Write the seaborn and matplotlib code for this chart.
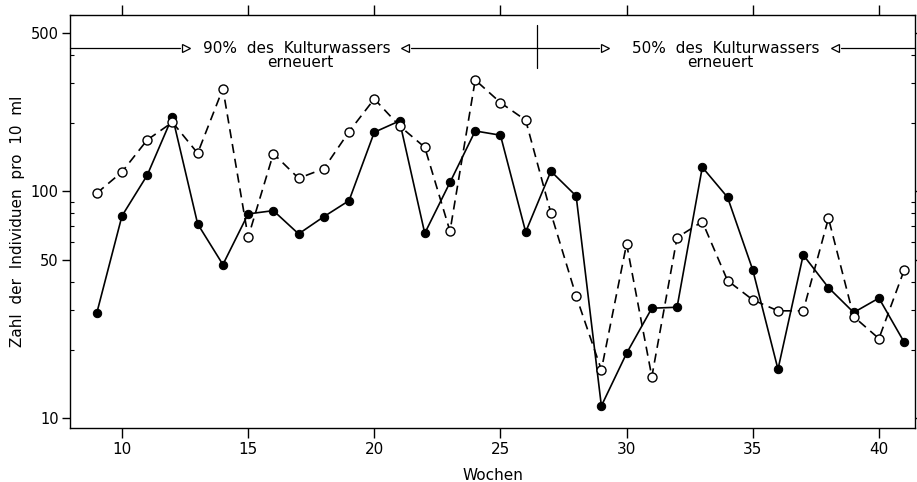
import numpy as np
import pandas as pd
import matplotlib
matplotlib.use("Agg")
import matplotlib.pyplot as plt
import matplotlib.transforms as mtrans
from matplotlib.ticker import LogLocator, FixedLocator, NullFormatter, FixedFormatter
import seaborn as sns

# ---- data ----
wochen = list(range(9, 42))
gefuellt = [29.0, 77.9, 117.8, 213.6, 71.8, 47.5, 79.5, 82.2, 64.9, 77.3, 91.0,
            182.3, 204.5, 65.3, 109.5, 184.7, 176.9, 66.2, 122.7, 95.4, 11.3,
            19.3, 30.5, 30.8, 127.8, 94.2, 45.0, 16.4, 52.4, 37.6, 29.2, 33.8, 21.6]
offen = [98.1, 121.8, 168.6, 201.8, 147.3, 283.9, 62.7, 146.7, 114.2, 125.9, 183.4,
         255.7, 194.4, 156.5, 66.7, 310.1, 246.3, 206.0, 80.1, 34.5, 16.3,
         58.6, 15.2, 62.5, 73.5, 40.4, 33.2, 29.7, 29.7, 76.1, 28.0, 22.4, 44.9]
x_ticks = [10, 15, 20, 25, 30, 35, 40]
y_ticks = [10, 50, 100, 500]
y_ticklabels = ["10", "50", "100", "500"]
kopf_links = "90%  des  Kulturwassers"
kopf_rechts = "50%  des  Kulturwassers"
kopf_unten = "erneuert"
x_label = "Wochen"
y_label = "Zahl  der  Individuen  pro  10  ml"

df = pd.DataFrame({"Woche": wochen, "gefuellt": gefuellt, "offen": offen})

sns.set_theme(style="white")
plt.rcParams["font.family"] = ["DejaVu Sans"]
plt.rcParams["text.color"] = "black"
plt.rcParams["axes.labelcolor"] = "black"

fig = plt.figure(figsize=(9.17, 4.82), dpi=100)
ax = fig.add_axes([70 / 917, 1 - 428 / 482, (915 - 70) / 917, (428 - 15) / 482])

sns.lineplot(data=df, x="Woche", y="gefuellt", ax=ax, color="black", lw=1.2,
             marker="o", markersize=6, markerfacecolor="black",
             markeredgecolor="black", zorder=3)
sns.lineplot(data=df, x="Woche", y="offen", ax=ax, color="black", lw=1.2,
             linestyle=(0, (5.5, 3.5)), marker="o", markersize=6.5,
             markerfacecolor="white", markeredgecolor="black",
             markeredgewidth=1.0, zorder=4)

ax.set_yscale("log")
ax.set_xlim(7.94, 41.43)
ax.set_ylim(9.03, 600)

ax.yaxis.set_major_locator(FixedLocator(y_ticks))
ax.yaxis.set_major_formatter(FixedFormatter(y_ticklabels))
ax.yaxis.set_minor_locator(LogLocator(base=10, subs=np.arange(2, 10)))
ax.yaxis.set_minor_formatter(NullFormatter())
ax.set_xticks(x_ticks)
ax.set_xticklabels([str(t) for t in x_ticks])

ax.tick_params(axis="x", which="major", direction="out", length=7, width=1,
               top=True, bottom=True, labelsize=11, colors="black", pad=3)
ax.tick_params(axis="y", which="major", direction="out", length=6, width=1,
               left=True, right=True, labelsize=10.5, colors="black", pad=2)
ax.tick_params(axis="y", which="minor", direction="in", length=3, width=0.8,
               left=True, right=True, colors="black")

for s in ax.spines.values():
    s.set_visible(True)
    s.set_color("black")
    s.set_linewidth(1.0)

ax.set_xlabel(x_label, fontsize=11, labelpad=8, color="black")
ax.set_ylabel(y_label, fontsize=11, color="black")
ax.yaxis.set_label_coords(-0.053, 0.5)

# ---- header annotations ----
tr = mtrans.blended_transform_factory(ax.transData, ax.transAxes)
yh = 0.920
kw = dict(transform=tr, color="black", lw=0.9, clip_on=False)
ax.plot([7.94, 12.3], [yh, yh], **kw)
ax.plot([21.45, 26.45], [yh, yh], **kw)
ax.plot([26.45, 28.9], [yh, yh], **kw)
ax.plot([38.5, 41.43], [yh, yh], **kw)
ax.plot([26.45, 26.45], [0.872, 0.976], **kw)
mk = dict(transform=tr, color="black", markerfacecolor="white", markersize=6,
          markeredgewidth=0.9, linestyle="none", clip_on=False)
ax.plot([12.55], [yh], marker=">", **mk)
ax.plot([21.2], [yh], marker="<", **mk)
ax.plot([29.15], [yh], marker=">", **mk)
ax.plot([38.25], [yh], marker="<", **mk)
ax.text(16.92, yh, kopf_links, transform=tr, ha="center", va="center", fontsize=11, color="black")
ax.text(17.05, 0.884, kopf_unten, transform=tr, ha="center", va="center", fontsize=11, color="black")
ax.text(33.94, yh, kopf_rechts, transform=tr, ha="center", va="center", fontsize=11, color="black")
ax.text(33.7, 0.884, kopf_unten, transform=tr, ha="center", va="center", fontsize=11, color="black")

fig.savefig("out.png", dpi=100)
